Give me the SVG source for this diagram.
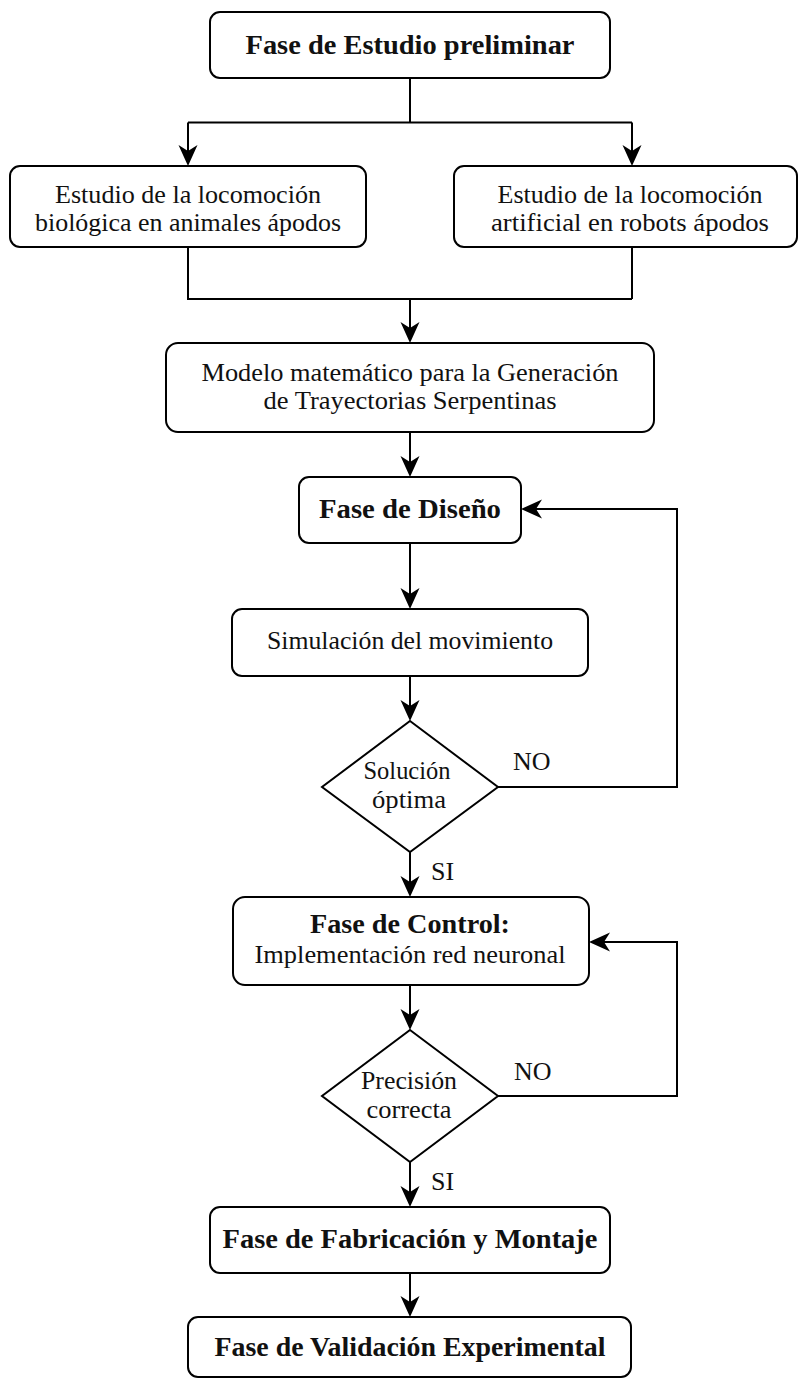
<svg xmlns="http://www.w3.org/2000/svg" width="800" height="1379" viewBox="0 0 800 1379" font-family="'Liberation Serif', 'Times New Roman', 'DejaVu Serif', serif">
<style>
  .box { fill: #ffffff; stroke: #000000; stroke-width: 2; }
  .edge { fill: none; stroke: #000000; stroke-width: 2; }
  text { fill: #111111; }
  .r { font-size: 26px; text-anchor: middle; }
  .b { font-size: 27px; font-weight: bold; text-anchor: middle; }
  .lbl { font-size: 26px; text-anchor: start; }
</style>
<defs>
  <marker id="arr" viewBox="-10 -11 24 22" refX="0" refY="0" markerWidth="24" markerHeight="22" markerUnits="userSpaceOnUse" orient="auto">
    <path d="M12,0 L-9,-9.5 L-3,0 L-9,9.5 Z" fill="#000000"/>
  </marker>
</defs>
<rect width="800" height="1379" fill="#ffffff"/>

<g id="connectors">
  <path class="edge" d="M410,78 V122.5 M188,122.5 H632"/>
  <path class="edge" d="M188,122.5 V154" marker-end="url(#arr)"/>
  <path class="edge" d="M632,122.5 V154" marker-end="url(#arr)"/>
  <path class="edge" d="M188,247 V299 H632 M632,247 V299"/>
  <path class="edge" d="M410,299 V331" marker-end="url(#arr)"/>
  <path class="edge" d="M410,432 V465" marker-end="url(#arr)"/>
  <path class="edge" d="M410,543 V597" marker-end="url(#arr)"/>
  <path class="edge" d="M410,676 V709" marker-end="url(#arr)"/>
  <path class="edge" d="M498,787 H677 V509 H533" marker-end="url(#arr)"/>
  <path class="edge" d="M410,852 V885" marker-end="url(#arr)"/>
  <path class="edge" d="M410,985 V1018" marker-end="url(#arr)"/>
  <path class="edge" d="M498,1096 H677 V942 H601" marker-end="url(#arr)"/>
  <path class="edge" d="M410,1162 V1195" marker-end="url(#arr)"/>
  <path class="edge" d="M410,1273 V1305" marker-end="url(#arr)"/>
  <text class="lbl" x="513" y="770">NO</text>
  <text class="lbl" x="431" y="880">SI</text>
  <text class="lbl" x="514" y="1080">NO</text>
  <text class="lbl" x="431" y="1190">SI</text>
</g>

<g id="n-estudio">
  <rect class="box" x="210" y="12" width="400" height="66" rx="10"/>
  <text class="b" x="410" y="54" textLength="329" lengthAdjust="spacingAndGlyphs">Fase de Estudio preliminar</text>
</g>
<g id="n-biologica">
  <rect class="box" x="10" y="166" width="356" height="81" rx="10"/>
  <text class="r" x="188" y="203" textLength="266" lengthAdjust="spacingAndGlyphs">Estudio de la locomoción</text>
  <text class="r" x="188" y="231" textLength="306" lengthAdjust="spacingAndGlyphs">biológica en animales ápodos</text>
</g>
<g id="n-artificial">
  <rect class="box" x="454" y="166" width="343" height="81" rx="10"/>
  <text class="r" x="630" y="203" textLength="265" lengthAdjust="spacingAndGlyphs">Estudio de la locomoción</text>
  <text class="r" x="630" y="231" textLength="278" lengthAdjust="spacingAndGlyphs">artificial en robots ápodos</text>
</g>
<g id="n-modelo">
  <rect class="box" x="166" y="343" width="488" height="89" rx="12"/>
  <text class="r" x="410" y="381" textLength="417" lengthAdjust="spacingAndGlyphs">Modelo matemático para la Generación</text>
  <text class="r" x="410" y="409" textLength="293" lengthAdjust="spacingAndGlyphs">de Trayectorias Serpentinas</text>
</g>
<g id="n-diseno">
  <rect class="box" x="299" y="477" width="222" height="66" rx="10"/>
  <text class="b" x="410" y="518" textLength="182" lengthAdjust="spacingAndGlyphs">Fase de Diseño</text>
</g>
<g id="n-simulacion">
  <rect class="box" x="232" y="609" width="356" height="67" rx="10"/>
  <text class="r" x="410" y="649" textLength="286" lengthAdjust="spacingAndGlyphs">Simulación del movimiento</text>
</g>
<g id="n-solucion">
  <polygon class="box" points="410,721 498,787 410,852 322,787"/>
  <text class="r" x="407" y="779" textLength="87" lengthAdjust="spacingAndGlyphs">Solución</text>
  <text class="r" x="409" y="808" textLength="74" lengthAdjust="spacingAndGlyphs">óptima</text>
</g>
<g id="n-control">
  <rect class="box" x="233" y="897" width="356" height="88" rx="12"/>
  <text class="b" x="410" y="933" textLength="200" lengthAdjust="spacingAndGlyphs">Fase de Control:</text>
  <text class="r" x="410" y="963" textLength="311" lengthAdjust="spacingAndGlyphs">Implementación red neuronal</text>
</g>
<g id="n-precision">
  <polygon class="box" points="410,1030 498,1096 410,1162 322,1096"/>
  <text class="r" x="409" y="1089" textLength="96" lengthAdjust="spacingAndGlyphs">Precisión</text>
  <text class="r" x="409" y="1118" textLength="85" lengthAdjust="spacingAndGlyphs">correcta</text>
</g>
<g id="n-fabricacion">
  <rect class="box" x="210" y="1207" width="400" height="66" rx="10"/>
  <text class="b" x="410" y="1248" textLength="375" lengthAdjust="spacingAndGlyphs">Fase de Fabricación y Montaje</text>
</g>
<g id="n-validacion">
  <rect class="box" x="188" y="1317" width="443" height="60" rx="10"/>
  <text class="b" x="410" y="1356" textLength="391" lengthAdjust="spacingAndGlyphs">Fase de Validación Experimental</text>
</g>
</svg>
